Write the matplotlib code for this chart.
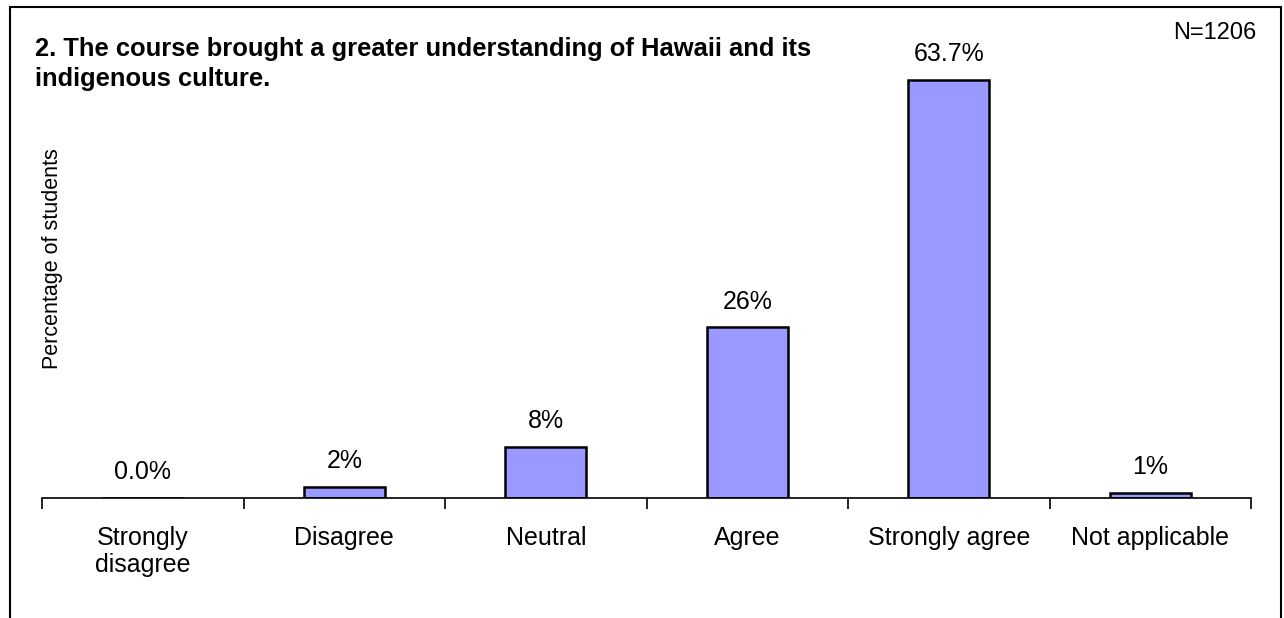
import numpy as np
import matplotlib.pyplot as plt
from matplotlib.patches import Rectangle

plt.rcParams["font.family"] = ["Liberation Sans", "DejaVu Sans"]

# ---- dados ----
categorias = ["Strongly\ndisagree", "Disagree", "Neutral", "Agree",
              "Strongly agree", "Not applicable"]
valores = [0.0, 1.7, 7.8, 26.0, 63.7, 0.8]
rotulos = ["0.0%", "2%", "8%", "26%", "63.7%", "1%"]

W, H = 1284, 618
fig = plt.figure(figsize=(W / 100, H / 100), dpi=100)

# moldura externa (sem borda inferior visivel)
fig.patches.append(Rectangle((10 / W, -0.05), 1271 / W, 1.05 - 7 / H,
                             transform=fig.transFigure, fill=False,
                             edgecolor="black", lw=1.5))

# eixo em coordenadas de pixel
x0, x1, yb = 42, 1251, 498
ymax = 70
ytop = yb - ymax * 6.56
ax = fig.add_axes([x0 / W, 1 - yb / H, (x1 - x0) / W, (yb - ytop) / H])

x = np.arange(len(categorias))
ax.bar(x, valores, width=0.4, color="#9999FF", edgecolor="black", lw=1.8)
for xi, v, r in zip(x, valores, rotulos):
    ax.annotate(r, (xi, v), xytext=(0, 10), textcoords="offset points",
                ha="center", va="bottom", fontsize=18)

ax.set_xlim(-0.5, len(categorias) - 0.5)
ax.set_ylim(0, ymax)
for s in ["top", "right", "left"]:
    ax.spines[s].set_visible(False)
ax.spines["bottom"].set_linewidth(1.2)
ax.set_yticks([])
ax.set_xticks(np.arange(len(categorias) + 1) - 0.5, minor=False)
ax.set_xticklabels([])
ax.tick_params(axis="x", length=8, width=1.2, direction="out")
ax.set_xticks(x, minor=True)
ax.set_xticklabels(categorias, minor=True, fontsize=18, linespacing=1.15)
ax.tick_params(axis="x", which="minor", length=0, pad=20)

fig.text(53 / W, 1 - 259 / H, "Percentage of students", rotation=90,
         ha="center", va="center", fontsize=15.5)
fig.text(35 / W, 1 - 64 / H,
         "2. The course brought a greater understanding of Hawaii and its\nindigenous culture.",
         ha="left", va="center", fontsize=18.4, fontweight="bold", linespacing=1.35)
fig.text(1215 / W, 1 - 33 / H, "N=1206", ha="center", va="center", fontsize=17)

plt.savefig("out.png", dpi=100, facecolor="white")
